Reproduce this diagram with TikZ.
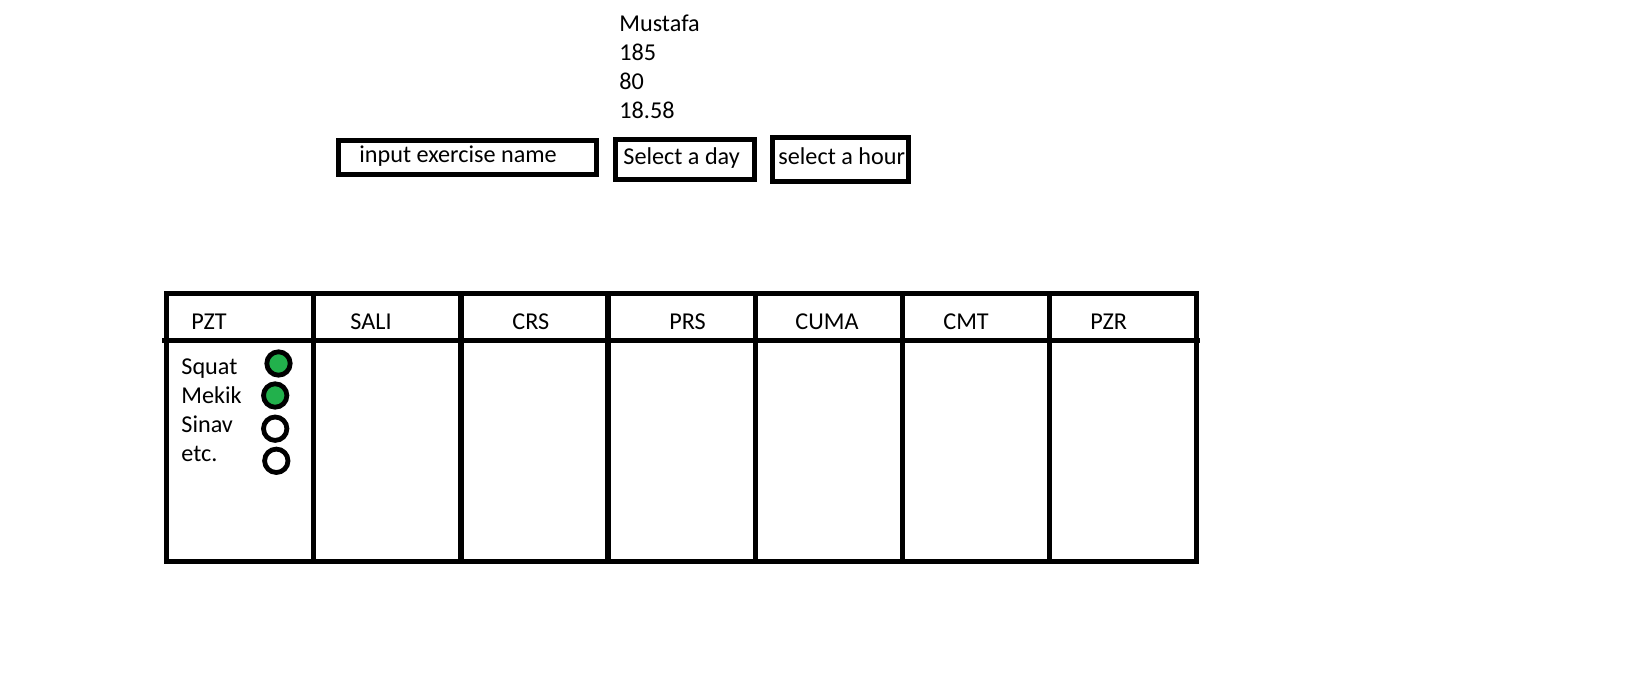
\documentclass[tikz,border=0pt]{standalone}
\usepackage{fontspec}
\setmainfont{Carlito}
\definecolor{paintgreen}{RGB}{34,177,76}
\begin{document}
\begin{tikzpicture}[x=0.5pt,y=-0.5pt,
  txt/.style={anchor=base west,inner sep=0pt,font=\fontsize{12.1}{14.5}\selectfont},
  box/.style={draw,line width=2.5pt,rectangle,inner sep=0pt},
  dot/.style={draw,line width=2.4pt,circle,inner sep=0pt,minimum size=11.7pt},
  grid/.style={line width=2.6pt}]
\useasboundingbox (0,0) rectangle (1634,673);
% info lines
\node[txt] (name) at (619,32) {Mustafa};
\node[txt] (height) at (619,61) {185};
\node[txt] (weight) at (619,90) {80};
\node[txt] (bmi) at (619,119) {18.58};
% input boxes
\node[box,minimum width=129pt,minimum height=17pt] (b1) at (467.5,157.5) {};
\node[txt] (t1) at (359,163) {input exercise name};
\node[box,minimum width=69.5pt,minimum height=20pt] (b2) at (685,159.5) {};
\node[txt] (t2) at (623,165) {Select a day};
\node[box,minimum width=68pt,minimum height=22pt] (b3) at (840.5,159.5) {};
\node[txt] (t3) at (778,165) {select a hour};
% table
\draw[grid] (166.5,293.5) rectangle (1196.5,561.5);
\draw[grid] (162,340.5) -- (1200,340.5);
\foreach \x in {313.6,460.9,608,755.1,902.2,1049.4}
  \draw[grid] (\x,293.5) -- (\x,561.5);
% headers
\node[txt] (h1) at (191,330) {PZT};
\node[txt] (h2) at (350,330) {SALI};
\node[txt] (h3) at (512,330) {CRS};
\node[txt] (h4) at (669,330) {PRS};
\node[txt] (h5) at (795,330) {CUMA};
\node[txt] (h6) at (943,330) {CMT};
\node[txt] (h7) at (1090,330) {PZR};
% exercises
\node[txt] (e1) at (181,375) {Squat};
\node[txt] (e2) at (181,404) {Mekik};
\node[txt] (e3) at (181,433) {Sinav};
\node[txt] (e4) at (181,462) {etc.};
\node[dot,fill=paintgreen] (c1) at (278.5,363.5) {};
\node[dot,fill=paintgreen] (c2) at (275.2,395.5) {};
\node[dot,fill=white] (c3) at (275.2,428.7) {};
\node[dot,fill=white] (c4) at (276.3,460.8) {};
\end{tikzpicture}
\end{document}
